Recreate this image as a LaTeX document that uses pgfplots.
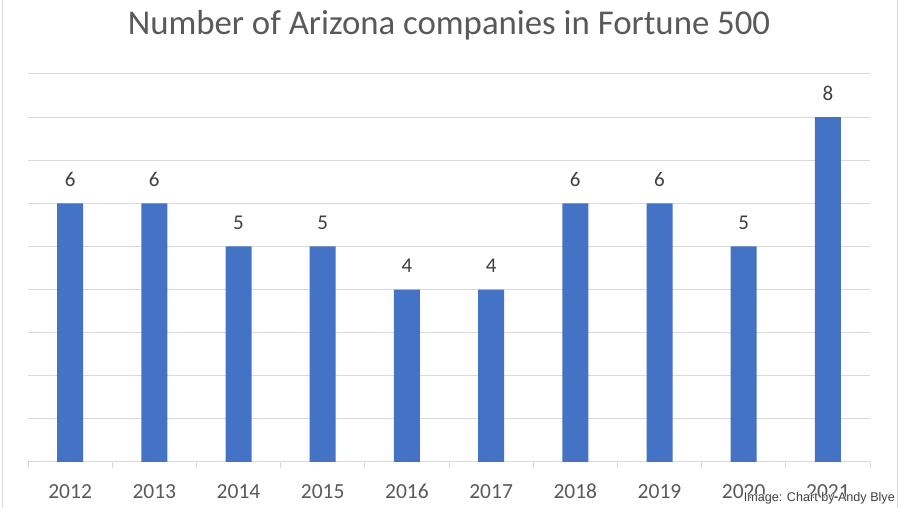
\documentclass[border=0pt]{standalone}
\usepackage{fontspec}
\setmainfont{Carlito}
\newfontfamily\markfont{Liberation Sans}
\usepackage{pgfplots}
\pgfplotsset{compat=1.18}
\usetikzlibrary{calc}
\definecolor{barblue}{HTML}{4472C4}
\definecolor{gridgray}{HTML}{D9D9D9}
\definecolor{labgray}{HTML}{595959}
\definecolor{valgray}{HTML}{404040}
\begin{document}
\begin{tikzpicture}
\path[use as bounding box] (0,0) rectangle (900pt,508pt);
\draw[gridgray, line width=1pt] (2pt,0) -- (2pt,508pt);
\draw[gridgray, line width=1pt] (897pt,0) -- (897pt,508pt);
\begin{axis}[
    at={(28pt,46pt)}, anchor=south west,
    scale only axis,
    width=842pt, height=388pt,
    xmin=-0.5, xmax=9.5,
    ymin=0, ymax=9,
    /pgf/number format/assume math mode=true,
    axis x line*=bottom,
    axis y line*=left,
    y axis line style={draw=none},
    x axis line style={gridgray, line width=1pt},
    ytick={0,...,9},
    yticklabels={},
    ytick style={draw=none},
    ymajorgrids,
    grid style={gridgray, line width=1pt},
    xtick={0,...,9},
    xticklabels={2012,2013,2014,2015,2016,2017,2018,2019,2020,2021},
    major x tick style={draw=none},
    minor xtick={-0.5,0.5,...,9.5},
    minor x tick style={gridgray, line width=1pt},
    minor tick length=6pt,
    tick align=outside,
    xticklabel style={font=\fontsize{21.5}{24}\selectfont, text=labgray, anchor=base, yshift=-32pt},
    nodes near coords,
    nodes near coords style={font=\fontsize{21}{24}\selectfont, text=valgray, anchor=base, yshift=17pt},
    clip=false,
]
\addplot[ybar, bar width=26pt, fill=barblue, draw=none] coordinates {
    (0,6) (1,6) (2,5) (3,5) (4,4) (5,4) (6,6) (7,6) (8,5) (9,8)
};
\end{axis}
\node[anchor=base, text=labgray, font=\fontsize{34.8}{40}\selectfont] at (449pt,473pt) {Number of Arizona companies in Fortune 500};
\foreach \dx/\dy in {-0.8/0,0.8/0,0/-0.8,0/0.8,-0.6/-0.6,0.6/0.6,-0.6/0.6,0.6/-0.6}{
  \node[anchor=base east, inner sep=0pt, text=white, font=\markfont\fontsize{12.6}{14}\selectfont] at ($(895pt,6pt)+(\dx pt,\dy pt)$) {Image: Chart by Andy Blye};
}
\node[anchor=base east, inner sep=0pt, text=valgray, font=\markfont\fontsize{12.6}{14}\selectfont] at (895pt,6pt) {Image: Chart by Andy Blye};
\end{tikzpicture}
\end{document}
